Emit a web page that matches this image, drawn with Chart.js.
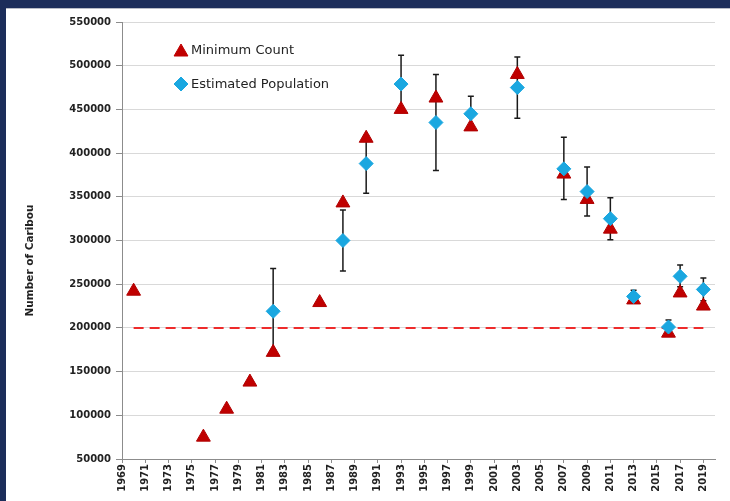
<!DOCTYPE html>
<html>
<head>
<meta charset="utf-8">
<script src="https://cdn.jsdelivr.net/npm/chart.js@4/dist/chart.umd.min.js"></script>
<style>
  html, body { margin: 0; padding: 0; background: #1c2d5a; width: 730px; height: 501px; overflow: hidden; }
  #panel { position: absolute; left: 6px; top: 8px; width: 724px; height: 493px; background: #fff; border-top: 1px solid #b8bcc6; box-sizing: border-box; }
  canvas { display: block; }
</style>
</head>
<body>
<div id="panel"><canvas id="chart" width="724" height="492"></canvas></div>
<script>
// Minimum count (triangles)
const minYears = [1970, 1976, 1978, 1980, 1982, 1986, 1988, 1990, 1993, 1996, 1999, 2003, 2007, 2009, 2011, 2013, 2016, 2017, 2019];
const minCount = [242000, 75000, 107000, 138000, 172000, 229000, 343000, 417000, 450000, 463000, 430000, 490000, 376000, 347000, 313000, 232000, 194000, 240000, 225000];

// Estimated population (diamonds) with error bars
const estYears = [1982, 1988, 1990, 1993, 1996, 1999, 2003, 2007, 2009, 2011, 2013, 2016, 2017, 2019];
const estPop   = [219000, 300000, 388000, 479000, 435000, 445000, 475000, 382000, 356000, 325000, 236000, 201000, 259000, 244000];
const estLow   = [175000, 265000, 354000, 447000, 380000, 428000, 440000, 347000, 328000, 301000, 230000, 194000, 247000, 231000];
const estHigh  = [268000, 335000, 420000, 512000, 490000, 465000, 510000, 418000, 384000, 349000, 243000, 209000, 272000, 257000];

// Dashed reference line
const thresholdYears = [1970, 2019];
const thresholdValues = [200000, 200000];

// x tick labels
const tickYears = [1969, 1971, 1973, 1975, 1977, 1979, 1981, 1983, 1985, 1987, 1989, 1991, 1993,
  1995, 1997, 1999, 2001, 2003, 2005, 2007, 2009, 2011, 2013, 2015, 2017, 2019];

const yTitle = "Number of Caribou";

const labelFont = { family: "DejaVu Sans", size: 10, weight: "bold" };

//error bars, drawn right after the dashed line so markers sit on top
const errorBars = {
  id: "errorBars",
  afterDatasetDraw(chart, args) {
    if (args.index !== 2) return;
    const ctx = chart.ctx;
    const x = chart.scales.x, y = chart.scales.y;
    ctx.save();
    ctx.strokeStyle = "#1a1a1a";
    ctx.lineWidth = 1.5;
    for (let i = 0; i < estYears.length; i++) {
      const px = x.getPixelForValue(estYears[i]);
      const top = y.getPixelForValue(estHigh[i]);
      const bot = y.getPixelForValue(estLow[i]);
      ctx.beginPath();
      ctx.moveTo(px, top); ctx.lineTo(px, bot);
      ctx.moveTo(px - 3, top); ctx.lineTo(px + 3, top);
      ctx.moveTo(px - 3, bot); ctx.lineTo(px + 3, bot);
      ctx.stroke();
    }
    ctx.restore();
  }
};

//legend inside the plot (top left) and the y axis title, a bit below centre like the original
const insideLegend = {
  id: "insideLegend",
  afterDraw(chart) {
    const ctx = chart.ctx;
    const a = chart.chartArea;
    const mx = a.left + 59;
    ctx.save();
    ctx.font = "13px 'DejaVu Sans'";
    ctx.textBaseline = "middle";
    const rows = [
      { y: a.top + 28, text: "Minimum Count", style: "triangle", r: 8, color: "#c00000" },
      { y: a.top + 62, text: "Estimated Population", style: "rectRot", r: 7, color: "#1aa7e0" }
    ];
    for (const row of rows) {
      ctx.fillStyle = row.color;
      ctx.strokeStyle = row.color;
      Chart.helpers.drawPoint(ctx, { pointStyle: row.style, radius: row.r, borderWidth: 1 }, mx, row.y + (row.style === "triangle" ? 2 : 0));
      ctx.fillStyle = "#222";
      ctx.fillText(row.text, mx + 10, row.y + 1);
    }

    ctx.translate(a.left - 92, (a.top + a.bottom) / 2 + 20);
    ctx.rotate(-Math.PI / 2);
    ctx.font = "bold 10.5px 'DejaVu Sans'";
    ctx.textAlign = "center";
    ctx.fillStyle = "#222";
    ctx.fillText(yTitle, 0, 0);
    ctx.restore();
  }
};

new Chart(document.getElementById("chart"), {
  type: "scatter",
  plugins: [errorBars, insideLegend],
  data: {
    datasets: [
      {
        label: "Estimated Population",
        data: estYears.map((yr, i) => ({ x: yr, y: estPop[i] })),
        pointStyle: "rectRot",
        pointRadius: 7,
        backgroundColor: "#1aa7e0",
        borderColor: "#1aa7e0",
        borderWidth: 1
      },
      {
        label: "Minimum Count",
        data: minYears.map((yr, i) => ({ x: yr, y: minCount[i] })),
        pointStyle: "triangle",
        pointRadius: 8,
        backgroundColor: "#c00000",
        borderColor: "#b00000",
        borderWidth: 1
      },
      {
        label: "Threshold",
        type: "line",
        data: thresholdYears.map((yr, i) => ({ x: yr, y: thresholdValues[i] })),
        borderColor: "#ee2b2b",
        borderWidth: 2,
        borderDash: [10, 6],
        pointRadius: 0,
        fill: false
      }
    ]
  },
  options: {
    responsive: false,
    animation: false,
    layout: { padding: { left: 0, top: 13, right: 15, bottom: 0 } },
    plugins: {
      legend: { display: false },
      tooltip: { enabled: false }
    },
    scales: {
      x: {
        type: "linear",
        min: 1969,
        max: 2020,
        afterBuildTicks: (scale) => { scale.ticks = tickYears.map(v => ({ value: v })); },
        afterFit: (scale) => { scale.height = 42; },
        ticks: {
          minRotation: 90,
          maxRotation: 90,
          padding: 1,
          color: "#222",
          font: labelFont,
          callback: (v) => String(v)
        },
        grid: { drawOnChartArea: false, drawTicks: true, tickLength: 4, tickColor: "#8c8c8c" },
        border: { color: "#8c8c8c", width: 1 }
      },
      y: {
        min: 50000,
        max: 550000,
        afterFit: (scale) => { scale.width = 116; },
        ticks: {
          stepSize: 50000,
          padding: 5,
          color: "#222",
          font: labelFont,
          callback: (v) => String(v)
        },
        grid: { color: "#d9d9d9", lineWidth: 1, tickLength: 6, tickColor: "#8c8c8c" },
        border: { color: "#8c8c8c", width: 1 }
      }
    }
  }
});
</script>
</body>
</html>
